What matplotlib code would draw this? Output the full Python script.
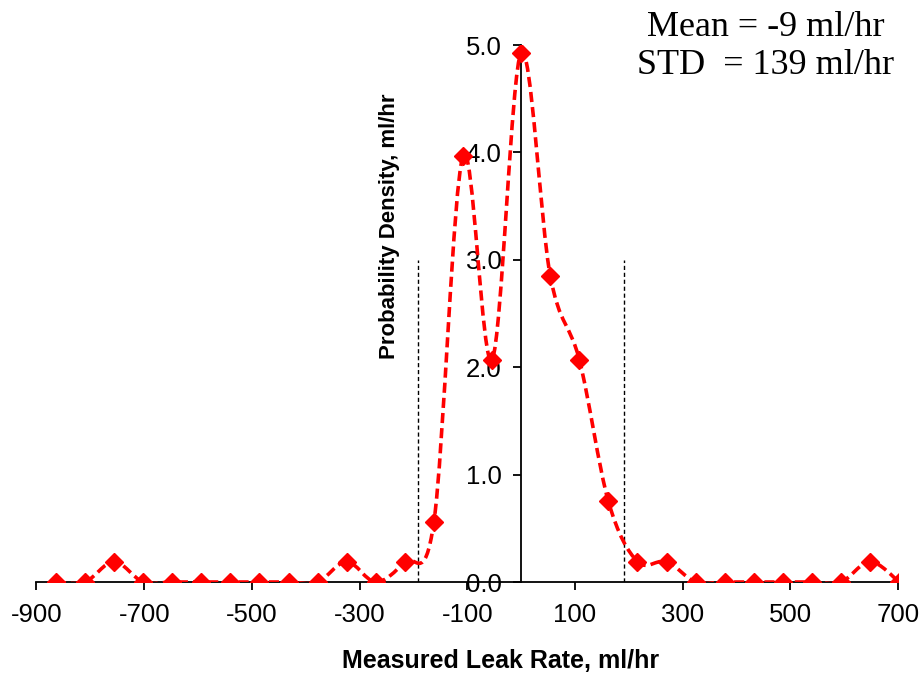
import numpy as np
import matplotlib
matplotlib.use('Agg')
import matplotlib.pyplot as plt
from matplotlib.path import Path
from matplotlib.patches import PathPatch

# Données
bin_step = 54
bin_index = np.arange(-16, 14)
leak_rate = bin_index * bin_step
density = [0.0, 0.0, 0.19, 0.0, 0.0, 0.0, 0.0, 0.0, 0.0, 0.0,
           0.19, 0.0, 0.19, 0.56, 3.97, 2.07, 4.93, 2.85, 2.07, 0.75,
           0.19, 0.19, 0.0, 0.0, 0.0, 0.0, 0.0, 0.0, 0.19, 0.0]
limit_lines = [-191, 191]
limit_top = 3.0
x_ticks = np.arange(-900, 701, 200)
y_ticks = [0.0, 1.0, 2.0, 3.0, 4.0, 5.0]
stats_text = 'Mean = -9 ml/hr\nSTD  = 139 ml/hr'

red = '#ff0000'

fig = plt.figure(figsize=(9.24, 6.73), dpi=100)
ax = fig.add_axes([0.0395, 0.1352, 0.9325, 0.7979])

# Courbe lissée (type Excel) : Bézier cubique entre les points
x = np.asarray(leak_rate, dtype=float)
y = np.asarray(density, dtype=float)
n = len(x)
verts = [(x[0], y[0])]
codes = [Path.MOVETO]
for i in range(n - 1):
    i0 = max(i - 1, 0)
    i3 = min(i + 2, n - 1)
    c1 = (x[i] + (x[i + 1] - x[i0]) / 6, y[i] + (y[i + 1] - y[i0]) / 6)
    c2 = (x[i + 1] - (x[i3] - x[i]) / 6, y[i + 1] - (y[i3] - y[i]) / 6)
    verts += [c1, c2, (x[i + 1], y[i + 1])]
    codes += [Path.CURVE4] * 3
curve = PathPatch(Path(verts, codes), facecolor='none', edgecolor=red,
                  lw=2.6, linestyle=(0, (2.8, 1.4)), zorder=3)
ax.add_patch(curve)
ax.plot(x, y, linestyle='none', marker='D', ms=9.5, color=red, zorder=4)

# Lignes verticales pointillées
for xl in limit_lines:
    ax.plot([xl, xl], [0, limit_top], color='black', lw=1,
            linestyle=(0, (3, 2)), zorder=2)

ax.set_xlim(-900, 700)
ax.set_ylim(0, 5)

ax.spines['top'].set_visible(False)
ax.spines['right'].set_visible(False)
ax.spines['left'].set_position(('data', 0))
ax.spines['left'].set_linewidth(1.3)
ax.spines['bottom'].set_linewidth(1.3)

ax.set_xticks(x_ticks)
ax.set_xticklabels([str(v) for v in x_ticks])
ax.set_yticks(y_ticks)
ax.set_yticklabels(['%.1f' % v for v in y_ticks])
ax.tick_params(axis='both', direction='out', length=6, width=1.3,
               labelsize=18.5, pad=8)
ax.tick_params(axis='x', pad=9)
for lab in ax.get_xticklabels() + ax.get_yticklabels():
    lab.set_family('Liberation Sans')

ax.set_xlabel('Measured Leak Rate, ml/hr', fontsize=18, fontweight='bold',
              family='Liberation Sans', va='center')
ax.xaxis.set_label_coords(0.5386, -0.147)
ax.set_ylabel('Probability Density, ml/hr', fontsize=16, fontweight='bold',
              family='Liberation Sans', va='center')
ax.yaxis.set_label_coords(0.41, 0.663)

fig.text(766 / 924, 1 - 46 / 673, stats_text, ha='center', va='center',
         fontsize=26, family='Liberation Serif')

fig.savefig('out.png', dpi=100)
